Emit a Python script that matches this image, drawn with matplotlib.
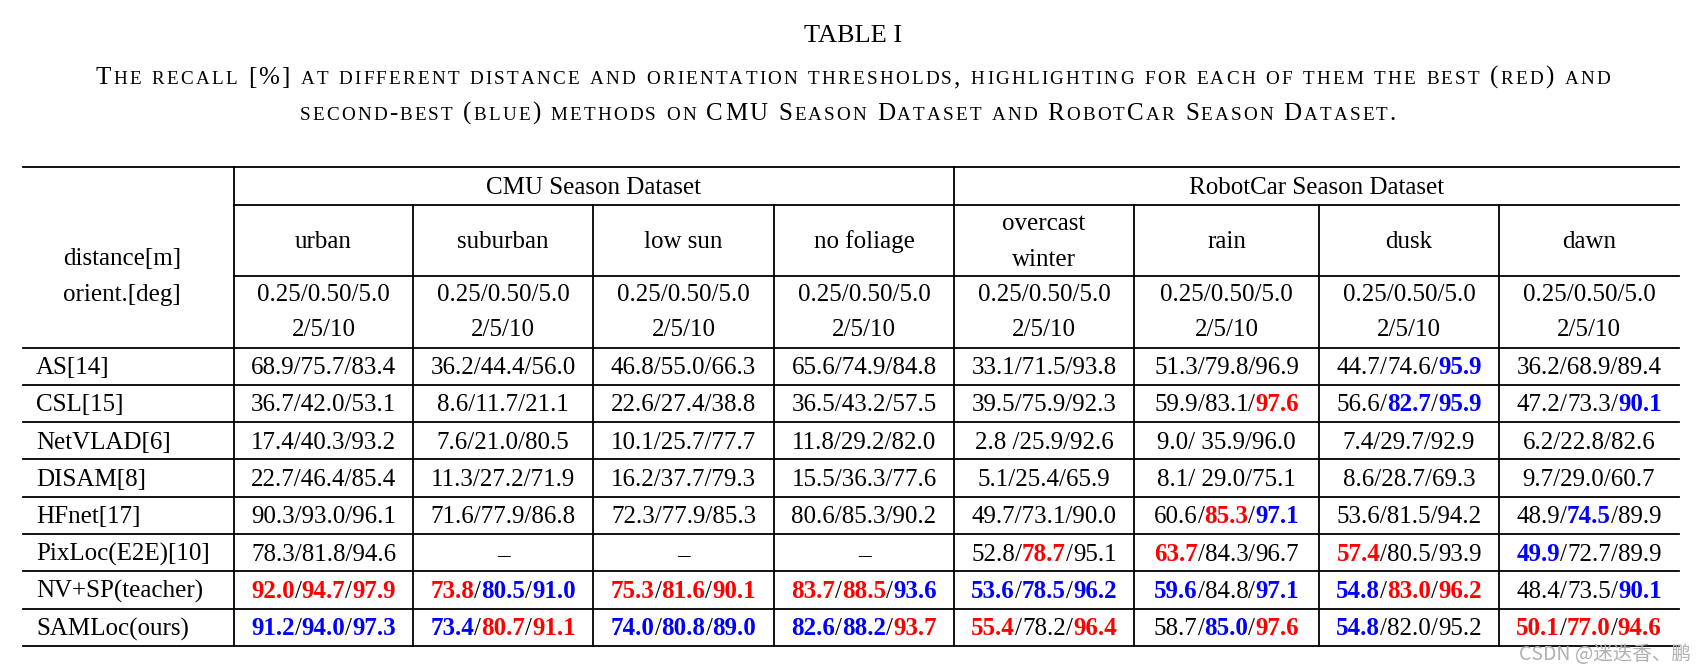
import matplotlib
matplotlib.use('Agg')
import matplotlib.pyplot as plt

# ---- table content
title = "TABLE I"
caption = ["The recall [%] at different distance and orientation thresholds, highlighting for each of them the best (red) and",
           "second-best (blue) methods on CMU Season Dataset and RobotCar Season Dataset."]
datasets = ["CMU Season Dataset", "RobotCar Season Dataset"]
conditions = ["urban", "suburban", "low sun", "no foliage", "overcast\nwinter", "rain", "dusk", "dawn"]
dist_thr = "0.25/0.50/5.0"
orient_thr = "2/5/10"
methods = ["AS[14]", "CSL[15]", "NetVLAD[6]", "DISAM[8]", "HFnet[17]",
           "PixLoc(E2E)[10]", "NV+SP(teacher)", "SAMLoc(ours)"]
cells = [
    ["68.9/75.7/83.4", "36.2/44.4/56.0", "46.8/55.0/66.3", "65.6/74.9/84.8",
     "33.1/71.5/93.8", "51.3/79.8/96.9", "44.7/74.6/95.9", "36.2/68.9/89.4"],
    ["36.7/42.0/53.1", "8.6/11.7/21.1", "22.6/27.4/38.8", "36.5/43.2/57.5",
     "39.5/75.9/92.3", "59.9/83.1/97.6", "56.6/82.7/95.9", "47.2/73.3/90.1"],
    ["17.4/40.3/93.2", "7.6/21.0/80.5", "10.1/25.7/77.7", "11.8/29.2/82.0",
     "2.8 /25.9/92.6", "9.0/ 35.9/96.0", "7.4/29.7/92.9", "6.2/22.8/82.6"],
    ["22.7/46.4/85.4", "11.3/27.2/71.9", "16.2/37.7/79.3", "15.5/36.3/77.6",
     "5.1/25.4/65.9", "8.1/ 29.0/75.1", "8.6/28.7/69.3", "9.7/29.0/60.7"],
    ["90.3/93.0/96.1", "71.6/77.9/86.8", "72.3/77.9/85.3", "80.6/85.3/90.2",
     "49.7/73.1/90.0", "60.6/85.3/97.1", "53.6/81.5/94.2", "48.9/74.5/89.9"],
    ["78.3/81.8/94.6", "\u2013", "\u2013", "\u2013",
     "52.8/78.7/95.1", "63.7/84.3/96.7", "57.4/80.5/93.9", "49.9/72.7/89.9"],
    ["92.0/94.7/97.9", "73.8/80.5/91.0", "75.3/81.6/90.1", "83.7/88.5/93.6",
     "53.6/78.5/96.2", "59.6/84.8/97.1", "54.8/83.0/96.2", "48.4/73.5/90.1"],
    ["91.2/94.0/97.3", "73.4/80.7/91.1", "74.0/80.8/89.0", "82.6/88.2/93.7",
     "55.4/78.2/96.4", "58.7/85.0/97.6", "54.8/82.0/95.2", "50.1/77.0/94.6"],
]
# r = best, b = second best, - = plain
marks = [
    ["---", "---", "---", "---", "---", "---", "--b", "---"],
    ["---", "---", "---", "---", "---", "--r", "-bb", "--b"],
    ["---", "---", "---", "---", "---", "---", "---", "---"],
    ["---", "---", "---", "---", "---", "---", "---", "---"],
    ["---", "---", "---", "---", "---", "-rb", "---", "-b-"],
    ["---", "---", "---", "---", "-r-", "r--", "r--", "b--"],
    ["rrr", "rbb", "rrr", "rrb", "bbb", "b-b", "brr", "--b"],
    ["bbb", "brr", "bbb", "bbr", "r-r", "-br", "b--", "rrr"],
]

SERIF = 'Liberation Serif'
FS = 18
colors = {'r': '#ff0000', 'b': '#0000ff'}

fig = plt.figure(figsize=(17.06, 6.72), dpi=100)
ax = fig.add_axes([0, 0, 1, 1])
ax.set_xlim(0, 1706)
ax.set_ylim(672, 0)
ax.axis('off')
renderer = fig.canvas.get_renderer()


def text_width(s, **kw):
    t = ax.text(0, 0, s, **kw)
    w = t.get_window_extent(renderer).width
    t.remove()
    return w


def draw_runs(xc, y, runs, ha='center'):
    # runs: list of (string, kwargs), drawn side by side on one baseline
    widths = [text_width(s, **kw) for s, kw in runs]
    x = xc - sum(widths) / 2 if ha == 'center' else xc
    for (s, kw), w in zip(runs, widths):
        ax.text(x, y, s, ha='left', va='baseline', **kw)
        x += w


# ---- title and small caps caption (letters placed one by one, tracked to width)
ax.text(853, 42, title, ha='center', va='baseline', family=SERIF, fontsize=19)
big = dict(family=SERIF, fontsize=18)
small = dict(family=SERIF, fontsize=13.8)
space = text_width('a a', **big) - text_width('aa', **big)
for line, yb, span in zip(caption, [84, 120], [(96, 1610), (300, 1396)]):
    glyphs = []
    for ch in line:
        if ch == ' ':
            glyphs.append((None, space))
        else:
            kw = small if ch.islower() else big
            glyphs.append(((ch.upper(), kw), text_width(ch.upper(), **kw)))
    natural = sum(w for _, w in glyphs)
    track = (span[1] - span[0] - natural) / (len(glyphs) - 1)
    x = span[0]
    for g, w in glyphs:
        if g is not None:
            ax.text(x, yb, g[0], ha='left', va='baseline', **g[1])
        x += w + track

# ---- grid geometry
x_left, x_right = 23, 1679
col_x = [234, 413, 593, 774, 954, 1134, 1319, 1499, x_right]
y_top, y_ds, y_cond, y_body = 167, 205, 276, 347.5
row_h = (646 - y_body) / len(methods)
row_y = [y_body + i * row_h for i in range(len(methods) + 1)]

lw = 1.3
for y in [y_top, y_body] + row_y[1:]:
    ax.plot([x_left, x_right], [y, y], color='black', lw=lw)
for y in [y_ds, y_cond]:
    ax.plot([col_x[0], x_right], [y, y], color='black', lw=lw)
for i, x in enumerate(col_x[:-1]):
    y0 = y_top if i in (0, 4) else y_ds
    ax.plot([x, x], [y0, row_y[-1]], color='black', lw=lw)

base = 8  # baseline offset below a line centre
# dataset headers
ax.text((col_x[0] + col_x[4]) / 2, (y_top + y_ds) / 2 + base, datasets[0],
        ha='center', va='baseline', family=SERIF, fontsize=FS)
ax.text((col_x[4] + col_x[8]) / 2, (y_top + y_ds) / 2 + base, datasets[1],
        ha='center', va='baseline', family=SERIF, fontsize=FS)
# left header
ax.text(122, 257 + base, "distance[m]", ha='center', va='baseline', family=SERIF, fontsize=FS)
ax.text(122, 293 + base, "orient.[deg]", ha='center', va='baseline', family=SERIF, fontsize=FS)
# condition names and thresholds
for j, name in enumerate(conditions):
    xc = (col_x[j] + col_x[j + 1]) / 2
    parts = name.split('\n')
    if len(parts) == 1:
        ax.text(xc, 240 + base, name, ha='center', va='baseline', family=SERIF, fontsize=FS)
    else:
        ax.text(xc, 222 + base, parts[0], ha='center', va='baseline', family=SERIF, fontsize=FS)
        ax.text(xc, 258 + base, parts[1], ha='center', va='baseline', family=SERIF, fontsize=FS)
    ax.text(xc, 293 + base, dist_thr, ha='center', va='baseline', family=SERIF, fontsize=FS)
    ax.text(xc, 328 + base, orient_thr, ha='center', va='baseline', family=SERIF, fontsize=FS)

# body
plain = dict(family=SERIF, fontsize=FS, color='black')
for i, m in enumerate(methods):
    yc = (row_y[i] + row_y[i + 1]) / 2 + base
    ax.text(36, yc, m, ha='left', va='baseline', family=SERIF, fontsize=FS)
    for j, cell in enumerate(cells[i]):
        xc = (col_x[j] + col_x[j + 1]) / 2
        mk = marks[i][j]
        if mk == '---':
            ax.text(xc, yc, cell, ha='center', va='baseline', **plain)
            continue
        runs = []
        for k, v in enumerate(cell.split('/')):
            if k:
                runs.append(('/', plain))
            if mk[k] == '-':
                runs.append((v, plain))
            else:
                runs.append((v, dict(family=SERIF, fontsize=FS, color=colors[mk[k]],
                                     fontweight='bold')))
        draw_runs(xc, yc, runs)

# watermark
ax.text(1605, 660, "CSDN @迷迭香、鹏", ha='center', va='baseline', fontsize=14,
        color='#b0b0b0', family=['Noto Sans CJK SC', 'DejaVu Sans'])

fig.savefig('out.png', dpi=100)
